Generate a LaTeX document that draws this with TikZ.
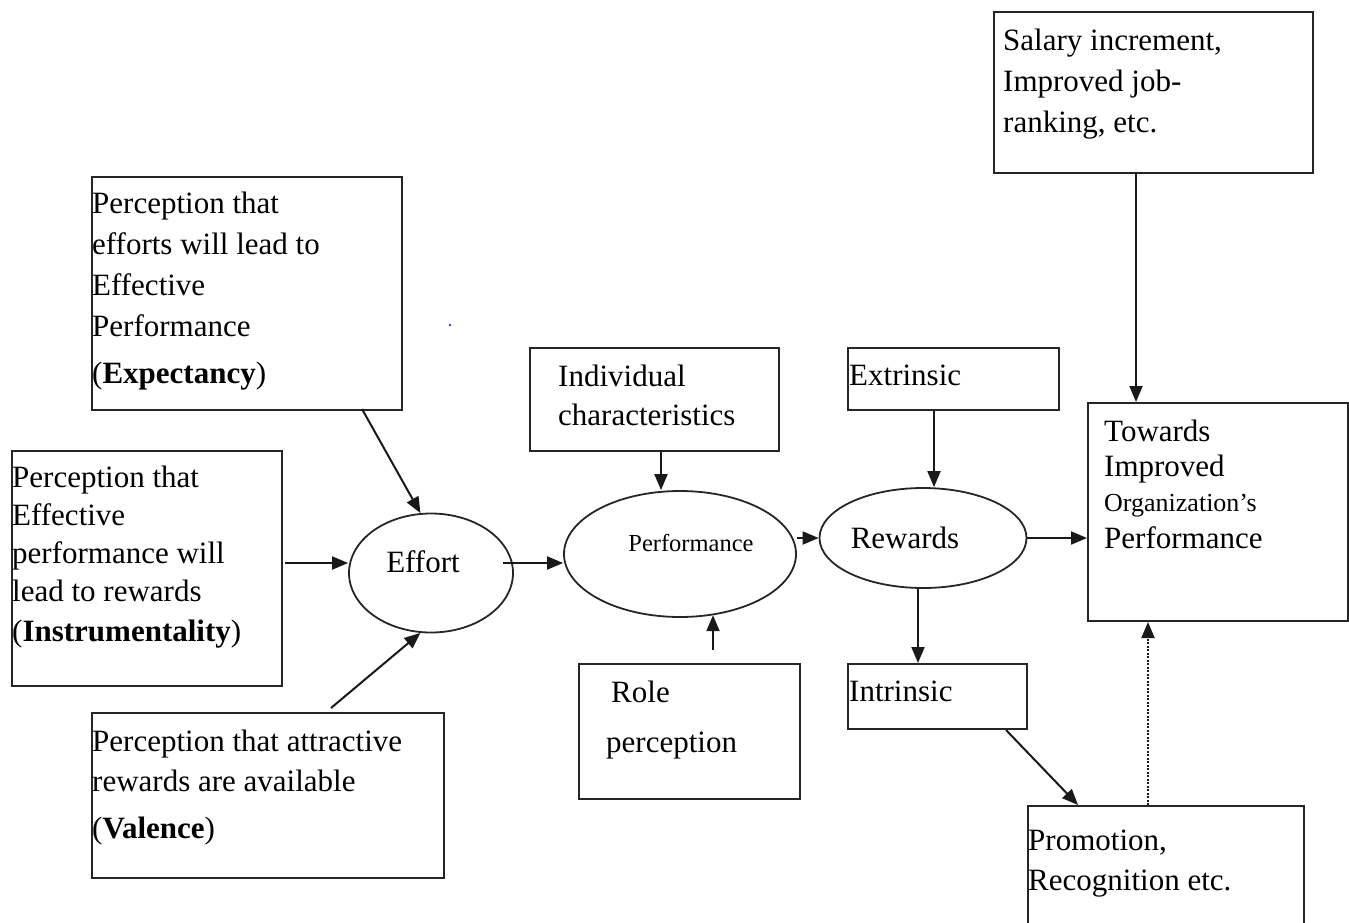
\documentclass[tikz,border=0pt]{standalone}
\usepackage{fontspec}
\setmainfont{Liberation Serif}
\usetikzlibrary{arrows.meta,shapes.geometric}
\begin{document}
\begin{tikzpicture}[x=1pt,y=-1pt,
  box/.style={draw=black!85, line width=2pt, anchor=north west, inner sep=0pt},
  oval/.style={draw=black!85, line width=1.8pt, ellipse, inner sep=0pt},
  txt/.style={anchor=north west, inner sep=0pt, align=left, font=\fontsize{31}{41}\selectfont},
  lbl/.style={anchor=base, inner sep=0pt, font=\fontsize{31}{41}\selectfont},
  arr/.style={-{Triangle[length=16pt,width=13pt]}, line width=2pt, draw=black!90},
  dotarr/.style={arr, dash pattern=on 2pt off 1.5pt}
]
\useasboundingbox (0,0) rectangle (1349,922);
\clip (0,0) rectangle (1349,922);

% boxes
\node[box, minimum width=310pt, minimum height=233pt] (expbox) at (91,176) {};
\node[box, minimum width=270pt, minimum height=235pt] (instbox) at (11,450) {};
\node[box, minimum width=352pt, minimum height=165pt] (valbox) at (91,712) {};
\node[box, minimum width=249pt, minimum height=103pt] (indbox) at (529,347) {};
\node[box, minimum width=221pt, minimum height=135pt] (rolebox) at (578,663) {};
\node[box, minimum width=211pt, minimum height=62pt] (extbox) at (847,347) {};
\node[box, minimum width=179pt, minimum height=65pt] (intbox) at (847,663) {};
\node[box, minimum width=319pt, minimum height=161pt] (salbox) at (993,11) {};
\node[box, minimum width=260pt, minimum height=218pt] (towbox) at (1087,402) {};
\node[box, minimum width=276pt, minimum height=150pt] (probox) at (1027,805) {};

% ellipses
\node[oval, minimum width=164pt, minimum height=119pt] (effort) at (431,573) {};
\node[oval, minimum width=232pt, minimum height=126pt] (perf) at (680,554) {};
\node[oval, minimum width=207pt, minimum height=100pt] (rew) at (923,538) {};

% texts
\node[txt] (exptxt) at (92,192) {Perception that\\efforts will lead to\\Effective\\Performance\\[6pt](\textbf{Expectancy})};
\node[txt, font=\fontsize{31}{38}\selectfont] (insttxt) at (12,466) {Perception that\\Effective\\performance will\\lead to rewards\\[2pt](\textbf{Instrumentality})};
\node[txt, font=\fontsize{31}{40}\selectfont] (valtxt) at (92,730) {Perception that attractive\\rewards are available\\[7pt](\textbf{Valence})};
\node[txt, font=\fontsize{31}{39}\selectfont] (indtxt) at (558,365) {Individual\\characteristics};
\node[txt, font=\fontsize{31}{40}\selectfont] (roletxt) at (606,681) {\hspace*{5pt}Role\\[10pt]perception};
\node[txt] (exttxt) at (849,365) {Extrinsic};
\node[txt] (inttxt) at (849,681) {Intrinsic};
\node[txt] (saltxt) at (1003,29) {Salary increment,\\Improved job-\\ranking, etc.};
\node[txt, font=\fontsize{31}{35}\selectfont] (towtxt) at (1104,420) {Towards\\Improved\\{\fontsize{26}{35}\selectfont Organization’s}\\[2pt]Performance};
\node[txt, font=\fontsize{31}{40}\selectfont] (protxt) at (1028,830) {Promotion,\\Recognition etc.};

\node[lbl] (efftxt) at (423,572) {Effort};
\node[lbl, font=\fontsize{24.5}{30}\selectfont] (perftxt) at (691,551) {Performance};
\node[lbl] (rewtxt) at (905,548) {Rewards};

% stray dot
\fill[blue!70!black] (450,325) circle (1.2pt);

% connectors
\coordinate (a1) at (362,409);
\draw[arr] (a1) -- (effort.100);
\coordinate (i1) at (285,563);
\draw[arr] (i1) -- (i1 -| effort.west);
\coordinate (v1) at (331,708);
\draw[arr] (v1) -- (effort.260);
\coordinate (e1) at (503,563);
\draw[arr] (e1) -- (e1 -| perf.west);
\draw[arr] ([xshift=6.5pt]indbox.south) -- ([xshift=6.5pt]indbox.south |- perf.north);
\coordinate (r1) at (713,650);
\draw[arr] (r1) -- (r1 |- perf.-61);
\draw[arr] (perf.east |- rew.west) -- (rew.west);
\draw[arr] ([xshift=11pt]rew.north |- extbox.south) -- ([xshift=11pt]rew.north);
\draw[arr] ([xshift=-5pt]rew.south) -- ([xshift=-5pt]rew.south |- intbox.north);
\draw[arr] (rew.east) -- (rew.east -| towbox.west);
\draw[arr] ([xshift=-17.5pt]salbox.south) -- ([xshift=-17.5pt]salbox.south |- towbox.north);
\draw[arr] ([xshift=-22pt]intbox.south east) -- ([xshift=51pt]probox.north west);
\draw[dotarr] ([xshift=121pt]probox.north west) -- ([xshift=121pt]probox.north west |- towbox.south);
\end{tikzpicture}
\end{document}
